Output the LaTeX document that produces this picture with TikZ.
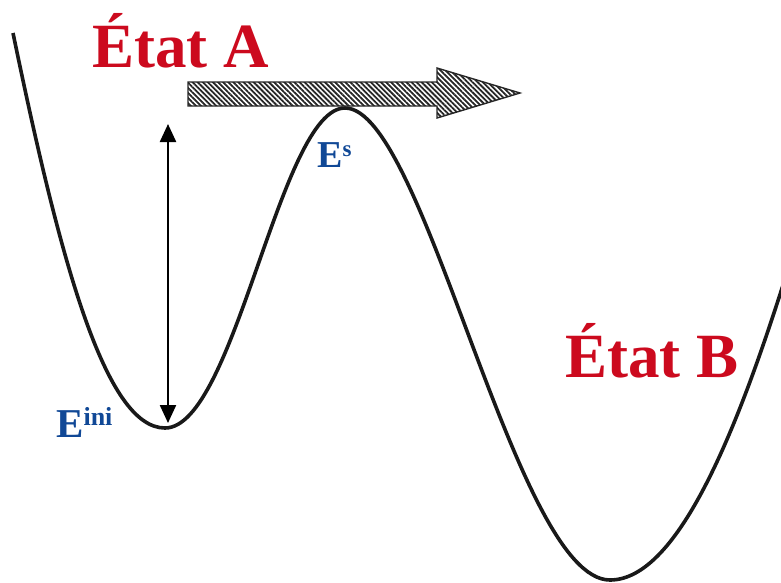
\documentclass[tikz,border=0pt]{standalone}
\usepackage{fontspec}
\setmainfont{Liberation Serif}
\usetikzlibrary{arrows.meta,patterns.meta}
\definecolor{etatred}{RGB}{204,10,30}
\definecolor{eblue}{RGB}{16,72,150}
\tikzset{
  etat/.style={text=etatred,font=\fontsize{63}{63}\selectfont\bfseries,inner sep=0pt,anchor=base west},
  elabel/.style={text=eblue,font=\bfseries,inner sep=0pt,anchor=base west},
  curve/.style={line width=3.6pt,black!90},
  hatcharrow/.style={draw=black!85,line width=1.4pt,pattern={Lines[angle=-45,distance=3.6pt,line width=1.8pt]},pattern color=black!85},
  dbl/.style={line width=2.3pt,{Triangle[length=18pt,width=16pt]}-{Triangle[length=18pt,width=16pt]}}
}
\begin{document}
\begin{tikzpicture}[x=1pt,y=-1pt]
\useasboundingbox (0,0) rectangle (781,582);
% energy curve
\draw[curve] (13,33) .. controls (60,260) and (105,428) .. (165,428)
  .. controls (235,428) and (280,108) .. (345,108)
  .. controls (425,108) and (515,580) .. (610,580)
  .. controls (680,580) and (740,420) .. (784,282);
% hatched arrow
\draw[hatcharrow] (188,82) -- (437,82) -- (437,68) -- (520,93) -- (437,118) -- (437,106) -- (188,106) -- cycle;
% double arrow
\coordinate (top) at (168,124);
\coordinate (bot) at (168,423);
\draw[dbl] (top) -- (bot);
% labels
\node[etat] (A) at (92,67) {État A};
\node[etat] (B) at (565,377) {État B};
\node[elabel] (Eini) at (56,437) {\fontsize{41}{41}\selectfont E\raisebox{12pt}{\fontsize{26}{26}\selectfont ini}};
\node[elabel] (Es) at (317,167) {\fontsize{38}{38}\selectfont E\raisebox{11pt}{\fontsize{23}{23}\selectfont s}};
\end{tikzpicture}
\end{document}
